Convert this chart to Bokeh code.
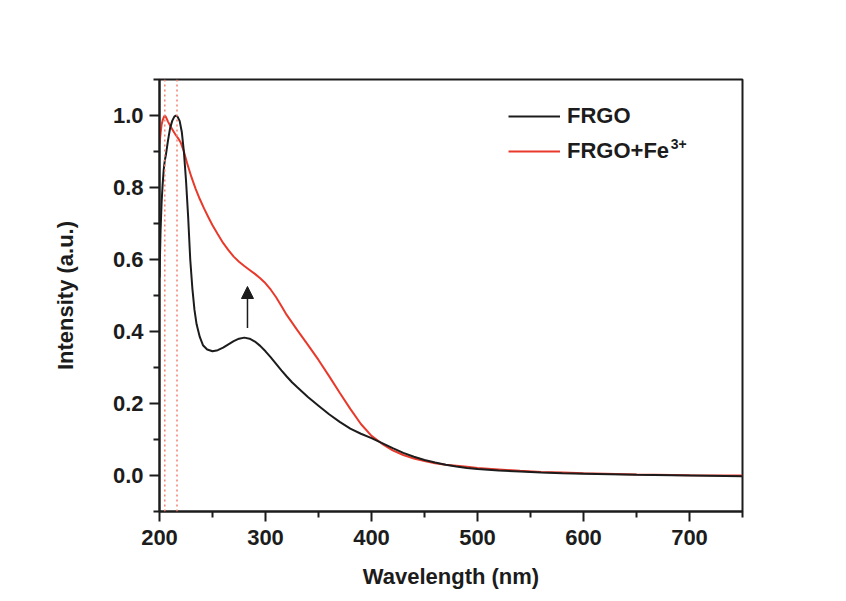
from bokeh.plotting import figure
from bokeh.models import (Range1d, Span, Arrow, NormalHead, Legend, LegendItem,
                          Label, FixedTicker, NumeralTickFormatter)
from bokeh.embed import file_html
from bokeh.resources import INLINE

# ---- data ----
wl_frgo = [200, 201, 202, 203, 204, 205, 206, 208, 210, 212, 214, 215.5, 217, 219, 221, 223,
           225, 227, 229, 231, 233, 235, 238, 241, 245, 250, 255, 260, 265, 270, 275, 280,
           285, 290, 295, 300, 305, 310, 315, 320, 325, 330, 340, 350, 360, 370, 380, 390, 400,
           410, 420, 430, 440, 450, 460, 470, 480, 490, 500, 520, 540, 560, 580, 600, 650, 700,
           750]
int_frgo = [0.55, 0.68, 0.76, 0.81, 0.85, 0.875, 0.89, 0.93, 0.965, 0.985, 0.997, 1.0, 0.997,
            0.985, 0.955, 0.90, 0.82, 0.72, 0.60, 0.52, 0.46, 0.42, 0.385, 0.362, 0.35, 0.345,
            0.348, 0.355, 0.364, 0.373, 0.380, 0.383, 0.380, 0.372, 0.360, 0.345, 0.328, 0.310,
            0.292, 0.275, 0.259, 0.245, 0.218, 0.194, 0.170, 0.149, 0.130, 0.116, 0.104, 0.090,
            0.076, 0.063, 0.052, 0.043, 0.036, 0.030, 0.025, 0.021, 0.018, 0.014, 0.011, 0.008,
            0.006, 0.005, 0.002, 0.0, -0.002]

wl_fe = [200, 201, 202, 203, 204, 205, 206, 207, 208, 210, 212, 214, 216, 218, 220, 223, 226,
         230, 234, 238, 242, 246, 250, 255, 260, 265, 270, 275, 280, 285, 290, 295, 300, 305,
         310, 315, 320, 330, 340, 350, 360, 370, 380, 390, 400, 410, 420, 430, 440, 450, 460,
         470, 480, 490, 500, 520, 540, 560, 580, 600, 650, 700, 750]
int_fe = [0.92, 0.95, 0.975, 0.987, 0.995, 1.0, 0.996, 0.99, 0.983, 0.972, 0.962, 0.952, 0.943,
          0.935, 0.925, 0.9, 0.868, 0.83, 0.797, 0.768, 0.742, 0.718, 0.695, 0.670, 0.646,
          0.626, 0.608, 0.594, 0.582, 0.571, 0.560, 0.548, 0.534, 0.516, 0.495, 0.471, 0.446,
          0.404, 0.363, 0.321, 0.276, 0.230, 0.185, 0.143, 0.110, 0.088, 0.070, 0.057, 0.047,
          0.040, 0.034, 0.030, 0.027, 0.024, 0.021, 0.017, 0.013, 0.010, 0.008, 0.006, 0.003,
          0.001, 0.0]

peak_lines = [205, 216.5]
x_ticks = [200, 300, 400, 500, 600, 700]
x_minor = [250, 350, 450, 550, 650, 750]
y_ticks = [0.0, 0.2, 0.4, 0.6, 0.8, 1.0]
y_minor = [-0.1, 0.1, 0.3, 0.5, 0.7, 0.9, 1.1]
arrow_x = 283
arrow_y0, arrow_y1 = 0.41, 0.525

labels = ["FRGO", "FRGO+Fe"]
sup_text = "3+"

FONT = "Liberation Sans"
BLACK = "#1c1c1c"
RED = "#e8392b"

p = figure(width=846, height=601, output_backend="svg", toolbar_location=None,
           x_range=Range1d(200, 750), y_range=Range1d(-0.1, 1.1),
           min_border_left=159, min_border_right=104, min_border_top=79, min_border_bottom=90)
p.background_fill_color = "white"
p.border_fill_color = "white"
p.grid.visible = False
p.outline_line_color = BLACK
p.outline_line_width = 2
p.outline_line_alpha = 1

for ax in (p.xaxis[0], p.yaxis[0]):
    ax.axis_line_width = 2
    ax.axis_line_color = BLACK
    ax.major_tick_line_width = 2
    ax.minor_tick_line_width = 2
    ax.major_tick_line_color = BLACK
    ax.minor_tick_line_color = BLACK
    ax.major_tick_in = 0
    ax.major_tick_out = 10
    ax.minor_tick_in = 0
    ax.minor_tick_out = 6
    ax.major_label_text_font = FONT
    ax.major_label_text_font_style = "bold"
    ax.major_label_text_font_size = "22px"
    ax.major_label_text_color = BLACK
    ax.axis_label_text_font = FONT
    ax.axis_label_text_font_style = "bold"
    ax.axis_label_text_font_size = "22px"
    ax.axis_label_text_color = BLACK

p.xaxis.ticker = FixedTicker(ticks=x_ticks, minor_ticks=x_minor)
p.yaxis.ticker = FixedTicker(ticks=y_ticks, minor_ticks=y_minor)
p.yaxis.formatter = NumeralTickFormatter(format="0.0")
p.xaxis.axis_label = "Wavelength (nm)"
p.yaxis.axis_label = "Intensity (a.u.)"
p.xaxis.major_label_standoff = 8
p.yaxis.major_label_standoff = 6
p.xaxis.axis_label_standoff = 16
p.yaxis.axis_label_standoff = 32

for xv in peak_lines:
    p.add_layout(Span(location=xv, dimension="height", line_color="#f08070",
                      line_dash="2 3", line_width=1.5))

r_fe = p.line(wl_fe, int_fe, line_color=RED, line_width=2)
r_b = p.line(wl_frgo, int_frgo, line_color=BLACK, line_width=2)

p.add_layout(Arrow(end=NormalHead(size=12, fill_color=BLACK, line_color=BLACK),
                   x_start=arrow_x, y_start=arrow_y0, x_end=arrow_x, y_end=arrow_y1,
                   line_color=BLACK, line_width=1.5))

legend = Legend(items=[LegendItem(label=labels[0], renderers=[r_b]),
                       LegendItem(label=labels[1], renderers=[r_fe])],
                location=(349, 347), orientation="vertical")
legend.border_line_color = None
legend.background_fill_alpha = 0
legend.padding = 0
legend.margin = 0
legend.spacing = 9
legend.glyph_width = 52
legend.glyph_height = 22
legend.label_height = 22
legend.label_standoff = 7
legend.label_text_font = FONT
legend.label_text_font_style = "bold"
legend.label_text_font_size = "22px"
legend.label_text_color = BLACK
p.add_layout(legend, "center")

p.add_layout(Label(x=682.3, y=0.906, text=sup_text, text_font=FONT,
                   text_font_style="bold", text_font_size="14px", text_color=BLACK))

open("out.html", "w").write(file_html(p, INLINE))
